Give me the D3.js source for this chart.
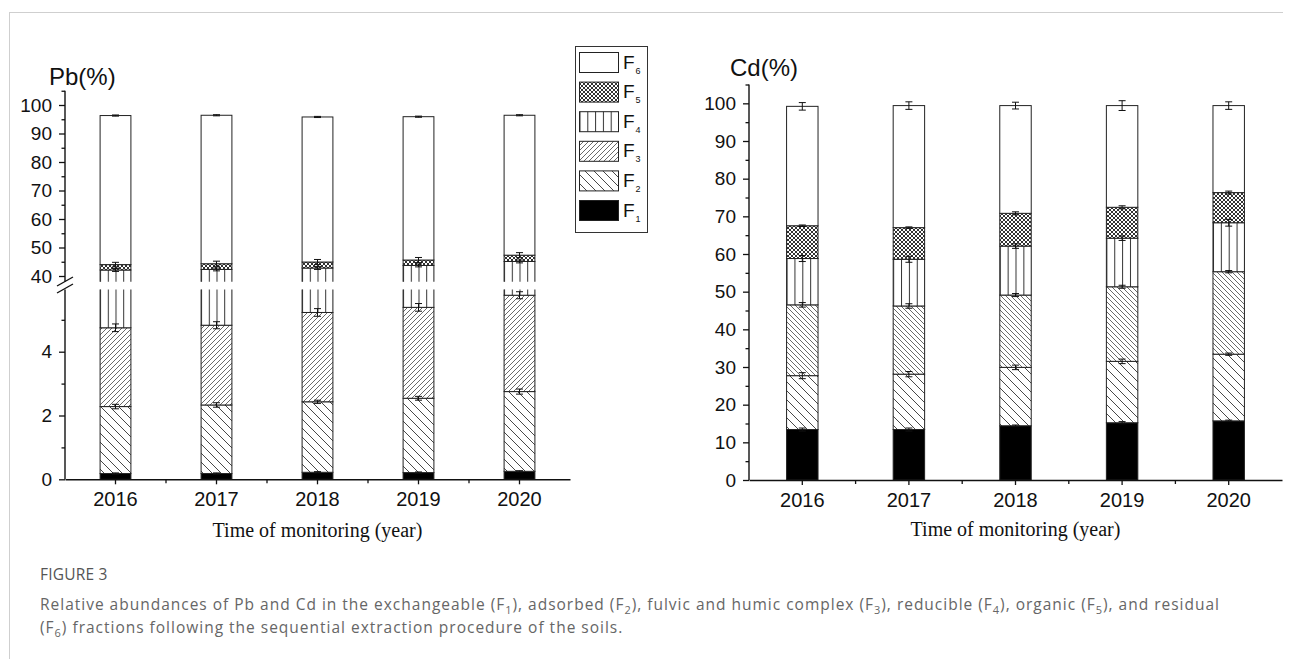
<!DOCTYPE html>
<html><head><meta charset="utf-8">
<script src="https://cdn.jsdelivr.net/npm/d3@7"></script>
<style>body{margin:0;background:#fff}svg{display:block}</style>
</head><body>
<svg id="c" width="1292" height="659"></svg>
<script>
// ---------- data ----------
const years = ["2016", "2017", "2018", "2019", "2020"];
const fractions = ["F1", "F2", "F3", "F4", "F5", "F6"];
const legendOrder = ["F6", "F5", "F4", "F3", "F2", "F1"];

// Pb relative abundances (%), per fraction
const pbF1 = [0.18, 0.18, 0.22, 0.21, 0.25];
const pbF2 = [2.10, 2.15, 2.21, 2.33, 2.50];
const pbF3 = [2.47, 2.50, 2.80, 2.85, 3.02];
const pbF4 = [37.35, 37.47, 37.57, 38.31, 39.33];
const pbF5 = [1.9, 2.0, 2.1, 1.9, 2.2];
const pbF6 = [52.3, 52.1, 50.9, 50.3, 49.1];
// Pb error (±) at top of each fraction
const pbErrF1 = [0.02, 0.02, 0.02, 0.02, 0.02];
const pbErrF2 = [0.07, 0.07, 0.05, 0.06, 0.08];
const pbErrF3 = [0.12, 0.11, 0.12, 0.12, 0.11];
const pbErrF4 = [0.5, 0.5, 0.5, 0.5, 0.5];
const pbErrF5 = [0.8, 0.9, 0.9, 0.9, 0.9];
const pbErrF6 = [0.2, 0.2, 0.2, 0.2, 0.2];

// Cd relative abundances (%), per fraction
const cdF1 = [13.4, 13.4, 14.4, 15.2, 15.7];
const cdF2 = [14.3, 14.7, 15.5, 16.3, 17.7];
const cdF3 = [18.8, 18.1, 19.2, 19.8, 21.9];
const cdF4 = [12.3, 12.4, 13.0, 12.9, 13.0];
const cdF5 = [8.7, 8.4, 8.7, 8.2, 8.0];
const cdF6 = [31.7, 32.4, 28.6, 27.0, 23.1];
const cdErrF1 = [0.4, 0.4, 0.2, 0.3, 0.2];
const cdErrF2 = [0.8, 0.7, 0.6, 0.6, 0.3];
const cdErrF3 = [0.6, 0.6, 0.4, 0.4, 0.3];
const cdErrF4 = [0.8, 0.8, 0.6, 0.6, 0.9];
const cdErrF5 = [0.2, 0.2, 0.4, 0.4, 0.4];
const cdErrF6 = [1.0, 1.0, 0.9, 1.3, 1.0];

// tick labels
const pbUpperTicks = [40, 50, 60, 70, 80, 90, 100];
const pbUpperMinor = [45, 55, 65, 75, 85, 95, 105];
const pbLowerTicks = [0, 2, 4];
const pbLowerMinor = [1, 3, 5];
const cdTicks = [0, 10, 20, 30, 40, 50, 60, 70, 80, 90, 100];
const cdMinor = [5, 15, 25, 35, 45, 55, 65, 75, 85, 95, 105];

// ---------- setup ----------
const svg = d3.select("#c");
const defs = svg.append("defs");
const SANS = "'Liberation Sans', Arial, sans-serif";
const SERIF = "'Liberation Serif', 'Times New Roman', serif";
const INK = "#222";

function hatch(id, p, dir, sw, col) {
  const pat = defs.append("pattern").attr("id", id)
    .attr("patternUnits", "userSpaceOnUse").attr("width", p).attr("height", p);
  pat.append("rect").attr("width", p).attr("height", p).attr("fill", "#fff");
  const d = dir === "back"
    ? `M0,0L${p},${p}M${-p / 2},${p / 2}L${p / 2},${p * 1.5}M${p / 2},${-p / 2}L${p * 1.5},${p / 2}`
    : `M0,${p}L${p},0M${-p / 2},${p / 2}L${p / 2},${-p / 2}M${p / 2},${p * 1.5}L${p * 1.5},${p / 2}`;
  pat.append("path").attr("d", d).attr("stroke", col).attr("stroke-width", sw).attr("fill", "none");
}
hatch("f2", 9, "back", 0.9, "#333");
hatch("f3s", 5, "fwd", 0.8, "#444");
hatch("f3b", 5, "back", 0.8, "#444");

function vert(id, frac) {
  const pat = defs.append("pattern").attr("id", id)
    .attr("patternUnits", "objectBoundingBox").attr("width", frac).attr("height", 1);
  pat.append("rect").attr("width", 200).attr("height", 5000).attr("fill", "#fff");
  pat.append("rect").attr("x", 0).attr("width", 1).attr("height", 5000).attr("fill", "#333");
}
vert("f4", 0.25);
vert("f4leg", 0.2);

(function () {
  const pat = defs.append("pattern").attr("id", "f5")
    .attr("patternUnits", "userSpaceOnUse").attr("width", 4).attr("height", 4);
  pat.append("rect").attr("width", 4).attr("height", 4).attr("fill", "#fff");
  pat.append("path").attr("d", "M0,0L4,4M4,0L0,4").attr("stroke", "#333").attr("stroke-width", 1);
})();

const fillPb = { F1: "#000", F2: "url(#f2)", F3: "url(#f3s)", F4: "url(#f4)", F5: "url(#f5)", F6: "#fff" };
const fillCd = { F1: "#000", F2: "url(#f2)", F3: "url(#f3b)", F4: "url(#f4)", F5: "url(#f5)", F6: "#fff" };
const fillLeg = { F1: "#000", F2: "url(#f2)", F3: "url(#f3s)", F4: "url(#f4leg)", F5: "url(#f5)", F6: "#fff" };

function rowsFrom(arrs) {
  return years.map((y, i) => {
    const r = { year: y };
    fractions.forEach((f, k) => r[f] = arrs[k][i]);
    return r;
  });
}

function drawBars(id, rows, errs, x, panels, fills) {
  const series = d3.stack().keys(fractions)(rows);
  panels.forEach((pn, pi) => {
    const cid = id + "clip" + pi;
    const [r0, r1] = pn.y.range();
    defs.append("clipPath").attr("id", cid).append("rect")
      .attr("x", x.range()[0] - 5).attr("width", x.range()[1] - x.range()[0] + 10)
      .attr("y", r1).attr("height", r0 - r1);
    const g = svg.append("g").attr("clip-path", `url(#${cid})`);
    series.forEach(s => {
      g.append("g").selectAll("rect").data(s).join("rect")
        .attr("x", d => x(d.data.year)).attr("width", x.bandwidth())
        .attr("y", d => pn.y(d[1])).attr("height", d => pn.y(d[0]) - pn.y(d[1]))
        .attr("fill", fills[s.key]).attr("stroke", INK).attr("stroke-width", 1);
    });
    series.forEach(s => {
      const eg = g.append("g").attr("stroke", "#111").attr("stroke-width", 1);
      s.forEach((d, i) => {
        const e = errs[s.key][i];
        const cx = x(d.data.year) + x.bandwidth() / 2;
        const yt = pn.y(d[1] + e), yb = pn.y(d[1] - e);
        eg.append("line").attr("x1", cx).attr("x2", cx).attr("y1", yt).attr("y2", yb);
        eg.append("line").attr("x1", cx - 3.5).attr("x2", cx + 3.5).attr("y1", yt).attr("y2", yt);
        eg.append("line").attr("x1", cx - 3.5).attr("x2", cx + 3.5).attr("y1", yb).attr("y2", yb);
      });
    });
  });
}

function yAxis(scale, x0, major, minor) {
  const g = svg.append("g").attr("transform", `translate(${x0},0)`);
  g.call(d3.axisLeft(scale).tickValues(major).tickFormat(d3.format("d"))
    .tickSize(6).tickPadding(7).tickSizeOuter(0));
  g.call(gg => gg.select(".domain").remove());
  g.selectAll("text").attr("font-family", SANS).attr("font-size", 19).attr("fill", "#111");
  g.selectAll("line").attr("stroke", "#111").attr("stroke-width", 1.3);
  const gm = svg.append("g").attr("transform", `translate(${x0},0)`);
  gm.call(d3.axisLeft(scale).tickValues(minor).tickSize(3.5).tickFormat("").tickSizeOuter(0));
  gm.select(".domain").remove();
  gm.selectAll("line").attr("stroke", "#111").attr("stroke-width", 1.3);
  const [a, b] = scale.range();
  svg.append("line").attr("x1", x0).attr("x2", x0).attr("y1", a).attr("y2", b)
    .attr("stroke", "#111").attr("stroke-width", 1.4);
}

function xAxis(x, y0, title, titleY) {
  const g = svg.append("g").attr("transform", `translate(0,${y0})`);
  g.call(d3.axisBottom(x).tickSize(5).tickPadding(8).tickSizeOuter(0));
  g.select(".domain").attr("stroke", "#111").attr("stroke-width", 1.4);
  g.selectAll(".tick line").attr("stroke", "#111").attr("stroke-width", 1.3);
  g.selectAll("text").attr("font-family", SANS).attr("font-size", 20).attr("fill", "#111");
  // minor ticks at band boundaries
  const bounds = years.slice(1).map(y => x(y) - x.step() * x.paddingInner() / 2);
  g.append("g").selectAll("line").data(bounds).join("line")
    .attr("x1", d => d).attr("x2", d => d).attr("y1", 0).attr("y2", 4)
    .attr("stroke", "#111").attr("stroke-width", 1.3);
  const [r0, r1] = x.range();
  svg.append("text").attr("x", (r0 + r1) / 2).attr("y", titleY).attr("text-anchor", "middle")
    .attr("font-family", SERIF).attr("font-size", 20).attr("fill", "#111").text(title);
}

// ---------- frame ----------
svg.append("line").attr("x1", 9).attr("x2", 1283).attr("y1", 12.5).attr("y2", 12.5).attr("stroke", "#cfcfcf");
svg.append("line").attr("x1", 9.5).attr("x2", 9.5).attr("y1", 12).attr("y2", 659).attr("stroke", "#cfcfcf");

// ---------- Pb chart ----------
const xPb = d3.scaleBand().domain(years).range([65, 570]).paddingInner(0.695).paddingOuter(0.3475);
const yPbLow = d3.scaleLinear().domain([0, 5.95]).range([479.3, 289.5]);
const yPbUp = d3.scaleLinear().domain([38, 105]).range([281.7, 90.75]);
const pbRows = rowsFrom([pbF1, pbF2, pbF3, pbF4, pbF5, pbF6]);
const pbErrs = { F1: pbErrF1, F2: pbErrF2, F3: pbErrF3, F4: pbErrF4, F5: pbErrF5, F6: pbErrF6 };
drawBars("pb", pbRows, pbErrs, xPb, [{ y: yPbLow }, { y: yPbUp }], fillPb);
yAxis(yPbUp, 65, pbUpperTicks, pbUpperMinor);
yAxis(yPbLow, 65, pbLowerTicks, pbLowerMinor);
// axis break marks
svg.append("line").attr("x1", 57).attr("y1", 286).attr("x2", 73).attr("y2", 277).attr("stroke", "#111").attr("stroke-width", 1.4);
svg.append("line").attr("x1", 57).attr("y1", 293).attr("x2", 73).attr("y2", 284).attr("stroke", "#111").attr("stroke-width", 1.4);
xAxis(xPb, 479.3, "Time of monitoring (year)", 537);
svg.append("text").attr("x", 49).attr("y", 85).attr("font-family", SANS).attr("font-size", 24)
  .attr("fill", "#111").text("Pb(%)");

// ---------- Cd chart ----------
const xCd = d3.scaleBand().domain(years).range([749, 1282]).paddingInner(0.705).paddingOuter(0.3525);
const yCd = d3.scaleLinear().domain([0, 105]).range([480, 84.5]);
const cdRows = rowsFrom([cdF1, cdF2, cdF3, cdF4, cdF5, cdF6]);
const cdErrs = { F1: cdErrF1, F2: cdErrF2, F3: cdErrF3, F4: cdErrF4, F5: cdErrF5, F6: cdErrF6 };
drawBars("cd", cdRows, cdErrs, xCd, [{ y: yCd }], fillCd);
yAxis(yCd, 749, cdTicks, cdMinor);
xAxis(xCd, 480, "Time of monitoring (year)", 536);
svg.append("text").attr("x", 730).attr("y", 76).attr("font-family", SANS).attr("font-size", 24)
  .attr("fill", "#111").text("Cd(%)");

// ---------- legend ----------
const leg = svg.append("g");
leg.append("rect").attr("x", 575.5).attr("y", 46.5).attr("width", 72).attr("height", 186)
  .attr("fill", "#fff").attr("stroke", "#333").attr("stroke-width", 1);
const legY = d3.scalePoint().domain(legendOrder).range([52.5, 200.5]);
legendOrder.forEach(k => {
  const yy = legY(k);
  leg.append("rect").attr("x", 579.5).attr("y", yy).attr("width", 39).attr("height", 20)
    .attr("fill", fillLeg[k]).attr("stroke", INK).attr("stroke-width", 1);
  const t = leg.append("text").attr("x", 623).attr("y", yy + 16).attr("font-family", SANS)
    .attr("font-size", 19).attr("fill", "#111");
  t.append("tspan").text("F");
  t.append("tspan").attr("font-size", 9).attr("dy", 5).attr("dx", 1).text(k.slice(1));
});

// ---------- caption ----------
const CAPF = "'Open Sans', 'Noto Sans', sans-serif";
const cap = svg.append("g").attr("font-family", CAPF).attr("fill", "#666");
cap.append("text").attr("x", 40).attr("y", 580).attr("font-size", 15.5).attr("fill", "#555")
  .attr("letter-spacing", 0.2).text("FIGURE 3");
function capLine(y, parts) {
  const t = cap.append("text").attr("x", 40).attr("y", y).attr("font-size", 15.5);
  let shift = 0;
  parts.forEach(p => {
    if (typeof p === "string") {
      t.append("tspan").attr("dy", -shift).text(p);
      shift = 0;
    } else {
      t.append("tspan").attr("font-size", 11).attr("dy", 4).text(p.sub);
      shift = 4;
    }
  });
  return t;
}
const cap1 = capLine(610, ["Relative abundances of Pb and Cd in the exchangeable (F", { sub: "1" }, "), adsorbed (F", { sub: "2" },
  "), fulvic and humic complex (F", { sub: "3" }, "), reducible (F", { sub: "4" }, "), organic (F", { sub: "5" },
  "), and residual"]);
const cap2 = capLine(633, ["(F", { sub: "6" }, ") fractions following the sequential extraction procedure of the soils."]);
// fit first caption line to the figure width via letter spacing
const w1 = cap1.node().getComputedTextLength();
const n1 = cap1.text().length;
const ls = Math.max(0, (1180 - w1) / n1);
cap1.attr("letter-spacing", ls);
cap2.attr("letter-spacing", ls);
</script>
</body></html>
